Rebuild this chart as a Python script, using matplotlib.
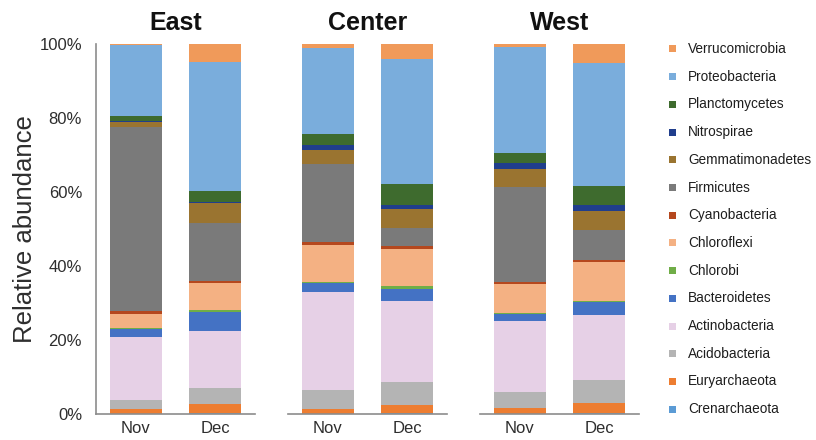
import numpy as np
import matplotlib
matplotlib.use("Agg")
import matplotlib.pyplot as plt
from matplotlib.patches import Rectangle

plt.rcParams['font.family'] = ['Liberation Sans', 'DejaVu Sans']

regions = ["East", "Center", "West"]
months = ["Nov", "Dec"]

# Phyla from bottom of the stack to top; values in % for
# East Nov, East Dec, Center Nov, Center Dec, West Nov, West Dec
phyla = ["Crenarchaeota", "Euryarchaeota", "Acidobacteria", "Actinobacteria",
         "Bacteroidetes", "Chlorobi", "Chloroflexi", "Cyanobacteria",
         "Firmicutes", "Gemmatimonadetes", "Nitrospirae", "Planctomycetes",
         "Proteobacteria", "Verrucomicrobia"]

crenarchaeota    = [0.1, 0.3, 0.1, 0.4, 0.1, 0.4]
euryarchaeota    = [1.2, 2.3, 1.2, 2.1, 1.4, 2.7]
acidobacteria    = [2.5, 4.5, 5.2, 6.1, 4.5, 6.0]
actinobacteria   = [17.2, 15.5, 26.5, 21.9, 19.2, 17.8]
bacteroidetes    = [2.0, 5.1, 2.5, 3.3, 2.0, 3.3]
chlorobi         = [0.2, 0.5, 0.4, 0.9, 0.2, 0.5]
chloroflexi      = [4.0, 7.3, 9.8, 10.0, 7.8, 10.4]
cyanobacteria    = [0.6, 0.6, 0.9, 0.8, 0.6, 0.5]
firmicutes       = [50.0, 15.8, 21.3, 4.8, 25.9, 8.3]
gemmatimonadetes = [1.4, 5.4, 3.8, 5.1, 4.8, 5.0]
nitrospirae      = [0.2, 0.3, 1.1, 1.2, 1.5, 1.6]
planctomycetes   = [1.5, 3.0, 3.0, 5.7, 2.8, 5.1]
proteobacteria   = [19.0, 34.8, 23.5, 33.8, 28.9, 33.4]
verrucomicrobia  = [0.4, 5.0, 1.0, 4.0, 0.7, 5.1]

values = np.array([crenarchaeota, euryarchaeota, acidobacteria, actinobacteria,
                   bacteroidetes, chlorobi, chloroflexi, cyanobacteria,
                   firmicutes, gemmatimonadetes, nitrospirae, planctomycetes,
                   proteobacteria, verrucomicrobia], dtype=float)
# relative abundance per sample
values = values / values.sum(axis=0, keepdims=True)

colors = ["#5B9BD5", "#ED7D31", "#B4B4B4", "#E6D0E6",
          "#4472C4", "#70AD47", "#F4B183", "#B5481E",
          "#7A7A7A", "#9A7430", "#203E8C", "#3E6B2E",
          "#7AADDC", "#F09A5A"]

W, H = 816, 440
fig = plt.figure(figsize=(W / 100, H / 100), dpi=100)

ax_left_px = [96, 288, 480]
ax_w_px = 159
ax_bottom_px = 414
ax_top_px = 44

text_col = "#2E2E2E"
spine_col = "#8C8C8C"

for r, region in enumerate(regions):
    ax = fig.add_axes([ax_left_px[r] / W, (H - ax_bottom_px) / H,
                       ax_w_px / W, (ax_bottom_px - ax_top_px) / H])
    x = np.arange(len(months))
    bottom = np.zeros(len(months))
    for k in range(len(phyla)):
        v = values[k, 2 * r:2 * r + 2]
        ax.bar(x, v, width=0.65, bottom=bottom, color=colors[k],
               edgecolor="none", linewidth=0)
        bottom += v
    ax.set_xlim(-0.5, 1.5)
    ax.set_ylim(0, 1)
    ax.set_xticks(x)
    ax.set_xticklabels(months, fontsize=12, color=text_col)
    ax.tick_params(axis="x", length=0, pad=5)
    ax.set_title(region, fontsize=18, fontweight="bold", pad=10, color="#111111")
    for s in ["top", "right"]:
        ax.spines[s].set_visible(False)
    ax.spines["bottom"].set_color(spine_col)
    ax.spines["bottom"].set_linewidth(1.2)
    if r == 0:
        ax.set_yticks(np.linspace(0, 1, 6))
        ax.set_yticklabels([f"{int(t)}%" for t in np.linspace(0, 100, 6)],
                           fontsize=12, color=text_col)
        ax.tick_params(axis="y", length=0, pad=10)
        ax.spines["left"].set_color(spine_col)
        ax.spines["left"].set_linewidth(1.2)
        ax.set_ylabel("Relative abundance", fontsize=18.5, color=text_col,
                      labelpad=1.5)
    else:
        ax.spines["left"].set_visible(False)
        ax.set_yticks([])

# Legend: top entry is the top of the stack
n = len(phyla)
y0, pitch = 49, 27.7
for i in range(n):
    k = n - 1 - i
    yc = y0 + i * pitch
    sq = 7
    fig.patches.append(Rectangle((669 / W, (H - yc - sq / 2) / H), sq / W, sq / H,
                                 transform=fig.transFigure, facecolor=colors[k],
                                 edgecolor="none"))
    fig.text(688 / W, (H - yc) / H, phyla[k], fontsize=9.8, color="#1E1E1E",
             va="center", ha="left")

fig.savefig("out.png", dpi=100)
